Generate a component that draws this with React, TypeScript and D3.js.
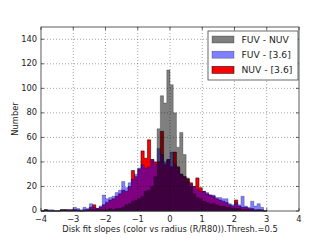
import React from "react";
import * as d3 from "d3";

// Histogram bins: left edges from -4.0 in steps of 0.1 (70 bins, to 3.0)
const binStart = -4.0;
const binWidth = 0.1;

const fuvNuv = [
  0, 1, 0, 0, 0, 0, 1, 1, 0, 0,
  1, 0, 0, 0, 1, 1, 1, 1, 1, 1,
  1, 2, 1, 2, 2, 3, 5, 6, 8, 9,
  10, 12, 16, 17, 20, 28, 67, 94, 88, 115,
  103, 80, 52, 64, 46, 27, 20, 14, 11, 10,
  8, 7, 6, 6, 5, 4, 4, 3, 3, 2,
  2, 2, 1, 1, 1, 1, 0, 1, 0, 0,
];

const fuv36 = [
  0, 1, 1, 1, 0, 0, 1, 1, 1, 1,
  3, 2, 1, 3, 2, 6, 3, 2, 4, 13,
  10, 11, 12, 15, 17, 24, 19, 23, 26, 30,
  35, 38, 35, 36, 42, 38, 51, 46, 40, 42,
  48, 38, 35, 30, 28, 24, 22, 20, 18, 16,
  16, 15, 13, 13, 11, 11, 10, 10, 6, 5,
  7, 5, 12, 4, 3, 8, 4, 6, 3, 0,
];

const nuv36 = [
  0, 1, 0, 0, 0, 0, 1, 1, 1, 1,
  1, 1, 0, 1, 1, 3, 5, 2, 3, 5,
  7, 9, 10, 12, 14, 17, 16, 20, 33, 28,
  34, 49, 43, 58, 42, 40, 40, 65, 38, 42,
  36, 48, 36, 30, 28, 26, 23, 20, 27, 19,
  16, 14, 13, 12, 10, 9, 8, 7, 5, 4,
  9, 4, 3, 3, 2, 2, 1, 1, 1, 0,
];

const seriesNames = ["FUV - NUV", "FUV - [3.6]", "NUV - [3.6]"];
const xTicks = [-4, -3, -2, -1, 0, 1, 2, 3, 4];
const yTicks = [0, 20, 40, 60, 80, 100, 120, 140];
const xLabel = "Disk fit slopes (color vs radius (R/R80)).Thresh.=0.5";
const yLabel = "Number";

const W = 332;
const H = 249;
const left = 41;
const right = 299;
const top = 27;
const bottom = 211;

const x = d3.scaleLinear().domain([-4, 4]).range([left, right]);
const y = d3.scaleLinear().domain([0, 150]).range([bottom, top]);

type Pt = { x0: number; v: number };
function toPts(vals: number[]): Pt[] {
  const pts = vals.map((v, i) => ({ x0: binStart + i * binWidth, v }));
  pts.push({ x0: binStart + vals.length * binWidth, v: vals[vals.length - 1] });
  return pts;
}

const area = d3
  .area<Pt>()
  .x((d) => x(d.x0))
  .y0(y(0))
  .y1((d) => y(d.v))
  .curve(d3.curveStepAfter);

const fmt = (t: number) => (t < 0 ? "\u2212" + Math.abs(t) : String(t));

const font = "'DejaVu Sans', sans-serif";

export default function App() {
  const legendItems = [
    { name: seriesNames[0], fill: "#000", op: 0.5, stroke: "#000", sop: 0.5 },
    { name: seriesNames[1], fill: "#0000ff", op: 0.5, stroke: "#000", sop: 0.5 },
    { name: seriesNames[2], fill: "#ff0000", op: 1, stroke: "#000", sop: 1 },
  ];
  return (
    <svg
      width={W}
      height={H}
      style={{ position: "absolute", left: 0, top: 0, background: "#fff" }}
      fontFamily={font}
    >
      <rect x={0} y={0} width={W} height={H} fill="#fff" />
      {/* histograms: red first (opaque), then blue and black with alpha */}
      <path d={area(toPts(nuv36)) || ""} fill="#ff0000" stroke="#000" strokeWidth={0.5} />
      <path
        d={area(toPts(fuv36)) || ""}
        fill="#0000ff"
        fillOpacity={0.5}
        stroke="#000"
        strokeOpacity={0.5}
        strokeWidth={0.5}
      />
      <path
        d={area(toPts(fuvNuv)) || ""}
        fill="#000"
        fillOpacity={0.5}
        stroke="#000"
        strokeOpacity={0.5}
        strokeWidth={0.5}
      />
      {/* grid */}
      <g stroke="#000" strokeOpacity={0.45} strokeWidth={0.8} strokeDasharray="1,2">
        {xTicks.slice(1, -1).map((t) => (
          <line key={"gx" + t} x1={x(t)} x2={x(t)} y1={top} y2={bottom} />
        ))}
        {yTicks.slice(1).map((t) => (
          <line key={"gy" + t} x1={left} x2={right} y1={y(t)} y2={y(t)} />
        ))}
      </g>
      {/* ticks inward on all sides */}
      <g stroke="#000" strokeWidth={0.6}>
        {xTicks.map((t) => (
          <g key={"tx" + t}>
            <line x1={x(t)} x2={x(t)} y1={bottom} y2={bottom - 3} />
            <line x1={x(t)} x2={x(t)} y1={top} y2={top + 3} />
          </g>
        ))}
        {yTicks.map((t) => (
          <g key={"ty" + t}>
            <line x1={left} x2={left + 3} y1={y(t)} y2={y(t)} />
            <line x1={right} x2={right - 3} y1={y(t)} y2={y(t)} />
          </g>
        ))}
      </g>
      {/* frame */}
      <rect
        x={left}
        y={top}
        width={right - left}
        height={bottom - top}
        fill="none"
        stroke="#333"
        strokeWidth={0.8}
      />
      {/* tick labels */}
      <g fontSize={8.3} fill="#222">
        {xTicks.map((t) => (
          <text key={"lx" + t} x={x(t)} y={bottom + 11} textAnchor="middle">
            {fmt(t)}
          </text>
        ))}
        {yTicks.map((t) => (
          <text key={"ly" + t} x={left - 4} y={y(t) + 2.4} textAnchor="end">
            {fmt(t)}
          </text>
        ))}
      </g>
      <text x={(left + right) / 2} y={231.5} textAnchor="middle" fontSize={8.3} fill="#222">
        {xLabel}
      </text>
      <text
        transform={`translate(17.5,${(top + bottom) / 2}) rotate(-90)`}
        textAnchor="middle"
        fontSize={8.3}
        fill="#222"
      >
        {yLabel}
      </text>
      {/* legend */}
      <g>
        <rect x={208} y={31} width={90} height={49} fill="#fff" stroke="#444" strokeWidth={0.8} />
        {legendItems.map((it, i) => {
          const cy = 39.5 + i * 15.2;
          return (
            <g key={it.name}>
              <rect
                x={212}
                y={cy - 3.5}
                width={22}
                height={7}
                fill={it.fill}
                fillOpacity={it.op}
                stroke={it.stroke}
                strokeOpacity={it.sop}
                strokeWidth={0.5}
              />
              <text x={241.5} y={cy + 3.3} fontSize={9.2} fill="#222">
                {it.name}
              </text>
            </g>
          );
        })}
      </g>
    </svg>
  );
}
